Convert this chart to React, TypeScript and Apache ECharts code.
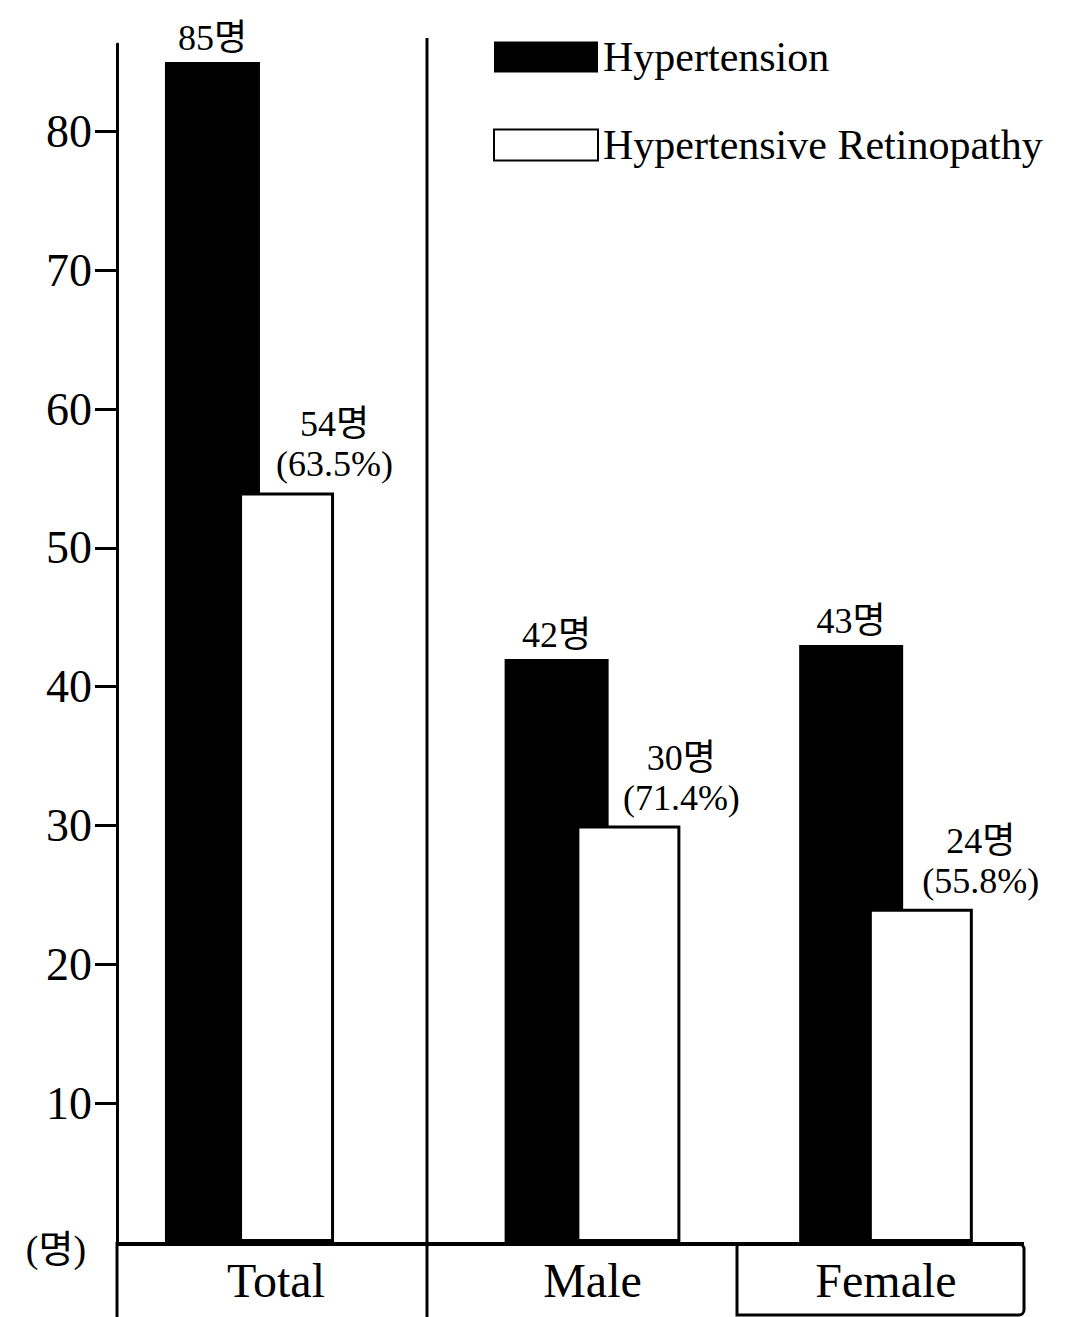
import React, { useEffect, useRef } from "react";
import * as echarts from "echarts";

// ---- data ----
const categories = ["Total", "Male", "Female"];
const seriesNames = ["Hypertension", "Hypertensive Retinopathy"];
const hypertension = [85, 42, 43];
const retinopathy = [54, 30, 24];
const retinopathyPct = ["63.5", "71.4", "55.8"];
const yTicks = [10, 20, 30, 40, 50, 60, 70, 80];
const unit = "명";
const unitLabel = "(명)";

// ---- layout / style ----
const FONT = "'Liberation Serif', 'Noto Sans CJK KR', serif";
const W = 1078;
const H = 1317;
const GRID_TOP = 44;
const ZERO_Y = 1242;
const Y_MAX = 86.3;
const gridLefts = [117, 492.5, 786];
const gridWidths = [265, 200, 200];
const barWidths = [95, 104, 104];
const barGaps = ["-22%", "-31%", "-33%"];
const pctLabelOffsets = [48, 53, 60];
const catLabelPadding = [[0, 0, 0, 53], [0, 0, 0, 0], [0, 0, 0, 0]];

export default function App() {
  const ref = useRef<HTMLDivElement>(null);

  useEffect(() => {
    if (!ref.current) return;
    const chart = echarts.init(ref.current, null, { renderer: "svg" });

    const grids = categories.map((_, i) => ({
      left: gridLefts[i],
      width: gridWidths[i],
      top: GRID_TOP,
      bottom: H - ZERO_Y,
      containLabel: false,
      outerBoundsMode: "none",
    }));

    const xAxes = categories.map((c, i) => ({
      type: "category",
      gridIndex: i,
      data: [c],
      axisLine: { show: false },
      axisTick: { show: false },
      splitLine: { show: false },
      axisLabel: {
        show: true,
        margin: 38,
        verticalAlign: "middle",
        fontSize: 48,
        fontFamily: FONT,
        color: "#000",
        padding: catLabelPadding[i],
      },
    }));

    const yAxes = categories.map((_, i) =>
      i === 0
        ? {
            type: "value",
            gridIndex: 0,
            min: 0,
            max: Y_MAX,
            splitLine: { show: false },
            axisLine: { show: true, lineStyle: { color: "#000", width: 3 } },
            axisTick: {
              show: true,
              inside: false,
              length: 22,
              customValues: yTicks,
              lineStyle: { color: "#000", width: 3 },
            },
            axisLabel: {
              show: true,
              customValues: yTicks,
              margin: 25,
              fontSize: 46,
              fontFamily: FONT,
              color: "#000",
            },
          }
        : {
            type: "value",
            gridIndex: i,
            min: 0,
            max: Y_MAX,
            show: false,
            splitLine: { show: false },
          }
    );

    const series: any[] = [];
    categories.forEach((_, i) => {
      series.push({
        type: "bar",
        name: seriesNames[0],
        xAxisIndex: i,
        yAxisIndex: i,
        data: [hypertension[i]],
        barWidth: barWidths[i],
        itemStyle: { color: "#000" },
        label: {
          show: true,
          position: "top",
          distance: 6,
          formatter: `${hypertension[i]}${unit}`,
          fontSize: 36,
          fontFamily: FONT,
          color: "#000",
        },
      });
      series.push({
        type: "bar",
        name: seriesNames[1],
        xAxisIndex: i,
        yAxisIndex: i,
        data: [retinopathy[i]],
        barWidth: barWidths[i],
        barGap: barGaps[i],
        itemStyle: { color: "#fff", borderColor: "#000", borderWidth: 3 },
        label: {
          show: true,
          position: "top",
          distance: 8,
          offset: [pctLabelOffsets[i], 0],
          formatter: `${retinopathy[i]}${unit}\n(${retinopathyPct[i]}%)`,
          fontSize: 36,
          lineHeight: 40,
          fontFamily: FONT,
          color: "#000",
        },
      });
    });

    const lineStyle = { stroke: "#000", lineWidth: 3 };

    chart.setOption({
      animation: false,
      backgroundColor: "#fff",
      grid: grids,
      xAxis: xAxes,
      yAxis: yAxes,
      legend: {
        data: seriesNames,
        orient: "vertical",
        left: 488,
        top: 31,
        itemWidth: 104,
        itemHeight: 31,
        itemGap: 46,
        icon: "rect",
        selectedMode: false,
        textStyle: { fontSize: 42, fontFamily: FONT, color: "#000" },
      },
      series,
      graphic: [
        { type: "line", shape: { x1: 117, y1: ZERO_Y, x2: 117, y2: H }, style: lineStyle, z: 10 },
        { type: "line", shape: { x1: 427, y1: 38, x2: 427, y2: H }, style: lineStyle, z: 10 },
        { type: "line", shape: { x1: 117, y1: 1244, x2: 1024, y2: 1244 }, style: { stroke: "#000", lineWidth: 4 }, z: 10 },
        {
          type: "rect",
          shape: { x: 737, y: 1244, width: 287, height: 71, r: [0, 5, 5, 0] },
          style: { fill: "none", stroke: "#000", lineWidth: 3 },
          z: 10,
        },
        {
          type: "text",
          x: 56,
          y: 1249,
          style: {
            text: unitLabel,
            font: `38px ${FONT}`,
            fill: "#000",
            align: "center",
            verticalAlign: "middle",
          },
          z: 10,
        },
      ],
    });

    return () => chart.dispose();
  }, []);

  return (
    <div
      ref={ref}
      style={{ position: "absolute", left: 0, top: 0, width: W, height: H }}
    />
  );
}
